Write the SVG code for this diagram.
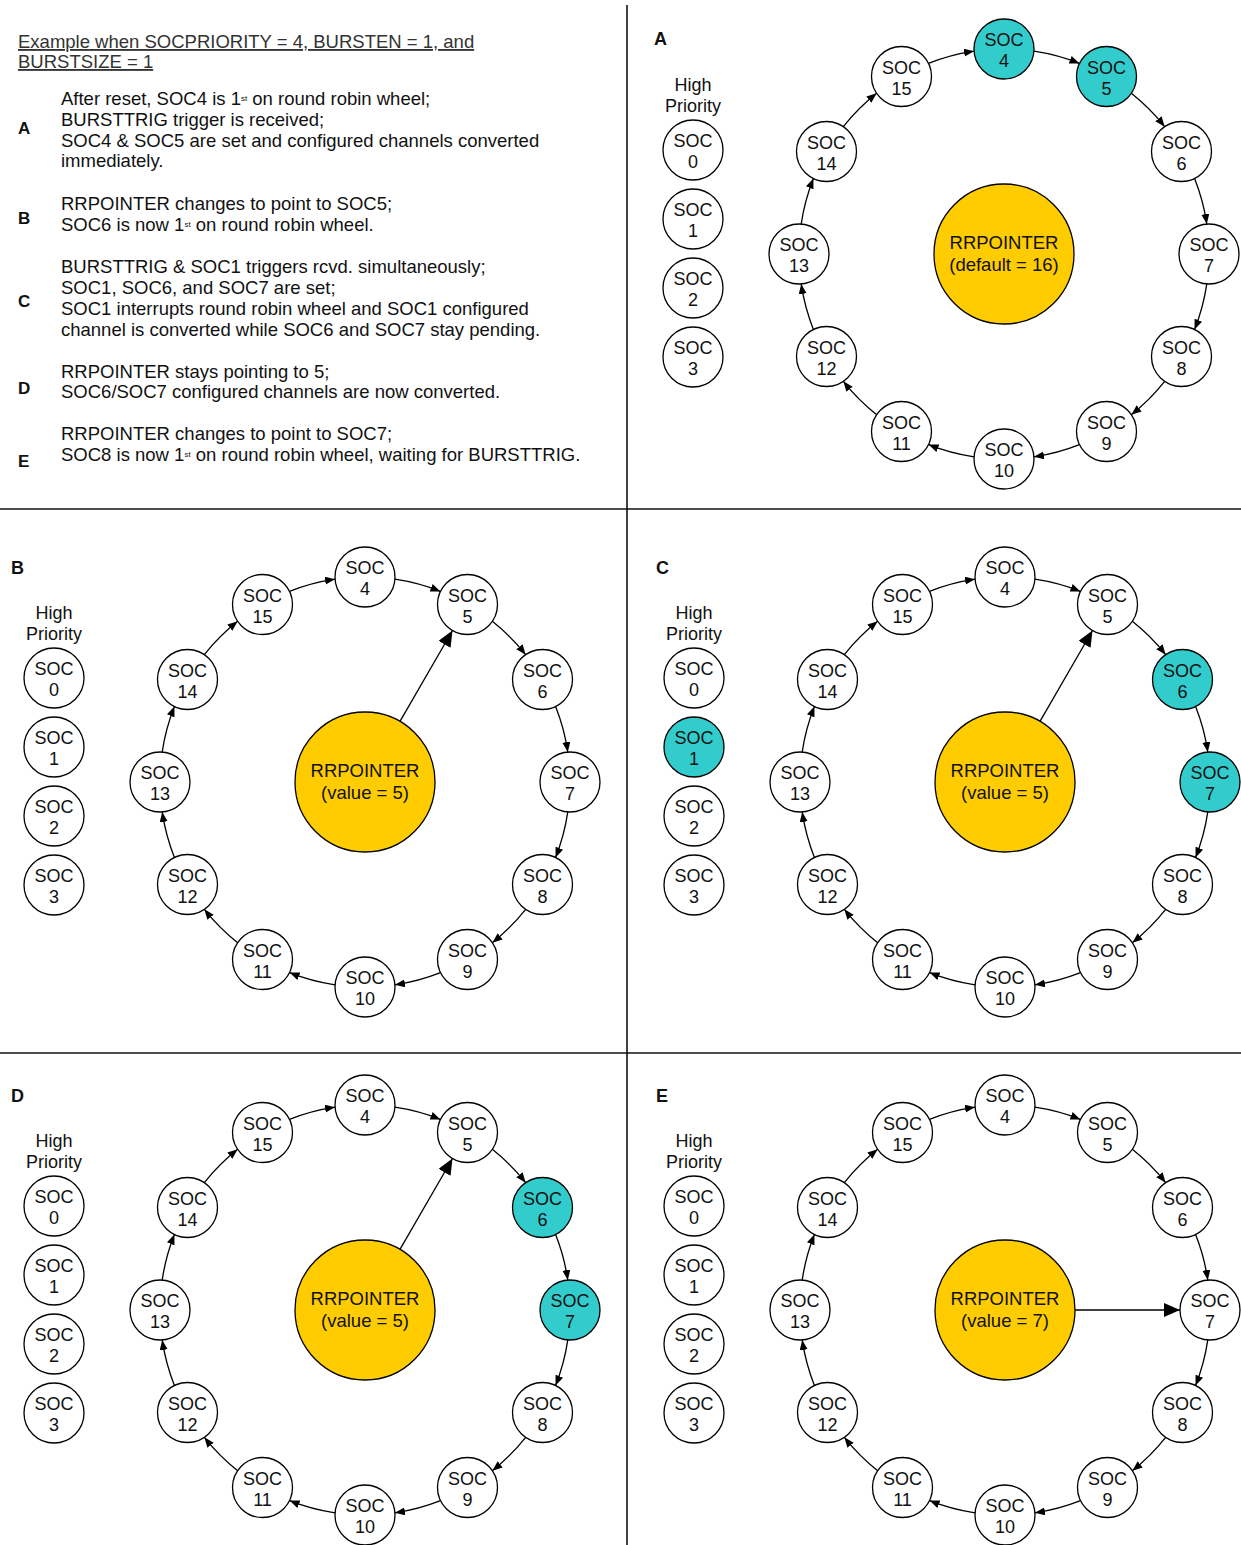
<svg xmlns="http://www.w3.org/2000/svg" width="1241" height="1545" viewBox="0 0 1241 1545">
<style>
text{font-family:"Liberation Sans",Arial,sans-serif;fill:#111}
.body{font-size:18.5px}
.head{font-size:18.5px;fill:#333;text-decoration:underline}
.lbl{font-size:17px;font-weight:bold}
.pl{font-size:18px;font-weight:bold}
.n circle{fill:#fff;stroke:#000;stroke-width:1.3}
.n.on circle{fill:#33CCCC}
.n text,.hp{font-size:18px;text-anchor:middle}
.rr circle{fill:#FFCC00;stroke:#000;stroke-width:1.3}
.rr text{font-size:18.5px;text-anchor:middle}
.c path{fill:none;stroke:#000;stroke-width:1.3}
.c .s{marker-end:url(#ah)}
.c .b{marker-end:url(#ahb)}
.div{stroke:#111;stroke-width:1.6}
.sup{font-size:8px}
</style>
<defs>
<marker id="ah" markerUnits="userSpaceOnUse" markerWidth="11" markerHeight="9" refX="10" refY="4" orient="auto"><path d="M0,0 L10,4 L0,8 z" fill="#000"/></marker>
<marker id="ahb" markerUnits="userSpaceOnUse" markerWidth="17" markerHeight="15" refX="16" refY="7" orient="auto"><path d="M0,0 L16,7 L0,14 z" fill="#000"/></marker>
</defs>

<g id="dividers">
<line class="div" x1="627" y1="5" x2="627" y2="1545"/>
<line class="div" x1="0" y1="509" x2="1241" y2="509"/>
<line class="div" x1="0" y1="1053" x2="1241" y2="1053"/>
</g>

<g id="description">
<text class="head" x="18" y="48">Example when SOCPRIORITY = 4, BURSTEN = 1, and</text>
<text class="head" x="18" y="68">BURSTSIZE = 1</text>
<text class="lbl" x="18" y="134">A</text>
<text class="body" x="61" y="104.5">After reset, SOC4 is 1<tspan class="sup" dy="-4">st</tspan><tspan dy="4"> on round robin wheel;</tspan></text>
<text class="body" x="61" y="125.5">BURSTTRIG trigger is received;</text>
<text class="body" x="61" y="146.5">SOC4 &amp; SOC5 are set and configured channels converted</text>
<text class="body" x="61" y="166.5">immediately.</text>
<text class="lbl" x="18" y="223.5">B</text>
<text class="body" x="61" y="209.5">RRPOINTER changes to point to SOC5;</text>
<text class="body" x="61" y="230.5">SOC6 is now 1<tspan class="sup" dy="-4">st</tspan><tspan dy="4"> on round robin wheel.</tspan></text>
<text class="lbl" x="18" y="306.5">C</text>
<text class="body" x="61" y="272.5">BURSTTRIG &amp; SOC1 triggers rcvd. simultaneously;</text>
<text class="body" x="61" y="293.5">SOC1, SOC6, and SOC7 are set;</text>
<text class="body" x="61" y="314.5">SOC1 interrupts round robin wheel and SOC1 configured</text>
<text class="body" x="61" y="335.5">channel is converted while SOC6 and SOC7 stay pending.</text>
<text class="lbl" x="18" y="393.5">D</text>
<text class="body" x="61" y="377.5">RRPOINTER stays pointing to 5;</text>
<text class="body" x="61" y="397.5">SOC6/SOC7 configured channels are now converted.</text>
<text class="lbl" x="18" y="466.5">E</text>
<text class="body" x="61" y="439.5">RRPOINTER changes to point to SOC7;</text>
<text class="body" x="61" y="460.5">SOC8 is now 1<tspan class="sup" dy="-4">st</tspan><tspan dy="4"> on round robin wheel, waiting for BURSTTRIG.</tspan></text>
</g>

<g id="panel-labels">
<text class="pl" x="654" y="45">A</text>
<text class="pl" x="11" y="574">B</text>
<text class="pl" x="656" y="574">C</text>
<text class="pl" x="11" y="1102">D</text>
<text class="pl" x="656" y="1102">E</text>
</g>

<!-- Panel A -->
<g id="panelA" transform="translate(1004,254)">
<g id="A-connectors" class="c">
<path class="s" d="M29.95,-202.8 A205,205 0 0 1 75.46,-190.6"/>
<path class="s" d="M127.34,-160.66 A205,205 0 0 1 160.66,-127.34"/>
<path class="s" d="M190.6,-75.46 A205,205 0 0 1 202.8,-29.95"/>
<path class="s" d="M202.8,29.95 A205,205 0 0 1 190.6,75.46"/>
<path class="s" d="M160.66,127.34 A205,205 0 0 1 127.34,160.66"/>
<path class="s" d="M75.46,190.6 A205,205 0 0 1 29.95,202.8"/>
<path class="s" d="M-29.95,202.8 A205,205 0 0 1 -75.46,190.6"/>
<path class="s" d="M-127.34,160.66 A205,205 0 0 1 -160.66,127.34"/>
<path class="s" d="M-190.6,75.46 A205,205 0 0 1 -202.8,29.95"/>
<path class="s" d="M-202.8,-29.95 A205,205 0 0 1 -190.6,-75.46"/>
<path class="s" d="M-160.66,-127.34 A205,205 0 0 1 -127.34,-160.66"/>
<path class="s" d="M-75.46,-190.6 A205,205 0 0 1 -29.95,-202.8"/>
</g>
<g id="A-rrpointer" class="rr"><circle cx="0" cy="0" r="70"/><text x="0" y="-5">RRPOINTER</text><text x="0" y="17">(default = 16)</text></g>
<text class="hp" x="-311" y="-163">High</text><text class="hp" x="-311" y="-142">Priority</text>
<g id="A-soc0" class="n"><circle cx="-311" cy="-104" r="30"/><text x="-311" y="-107">SOC</text><text x="-311" y="-86">0</text></g>
<g id="A-soc1" class="n"><circle cx="-311" cy="-35" r="30"/><text x="-311" y="-38">SOC</text><text x="-311" y="-17">1</text></g>
<g id="A-soc2" class="n"><circle cx="-311" cy="34" r="30"/><text x="-311" y="31">SOC</text><text x="-311" y="52">2</text></g>
<g id="A-soc3" class="n"><circle cx="-311" cy="103" r="30"/><text x="-311" y="100">SOC</text><text x="-311" y="121">3</text></g>
<g id="A-soc4" class="n on"><circle cx="0" cy="-205" r="30"/><text x="0" y="-208">SOC</text><text x="0" y="-187">4</text></g>
<g id="A-soc5" class="n on"><circle cx="102.5" cy="-177.5" r="30"/><text x="102.5" y="-180.5">SOC</text><text x="102.5" y="-159.5">5</text></g>
<g id="A-soc6" class="n"><circle cx="177.5" cy="-102.5" r="30"/><text x="177.5" y="-105.5">SOC</text><text x="177.5" y="-84.5">6</text></g>
<g id="A-soc7" class="n"><circle cx="205" cy="0" r="30"/><text x="205" y="-3">SOC</text><text x="205" y="18">7</text></g>
<g id="A-soc8" class="n"><circle cx="177.5" cy="102.5" r="30"/><text x="177.5" y="99.5">SOC</text><text x="177.5" y="120.5">8</text></g>
<g id="A-soc9" class="n"><circle cx="102.5" cy="177.5" r="30"/><text x="102.5" y="174.5">SOC</text><text x="102.5" y="195.5">9</text></g>
<g id="A-soc10" class="n"><circle cx="0" cy="205" r="30"/><text x="0" y="202">SOC</text><text x="0" y="223">10</text></g>
<g id="A-soc11" class="n"><circle cx="-102.5" cy="177.5" r="30"/><text x="-102.5" y="174.5">SOC</text><text x="-102.5" y="195.5">11</text></g>
<g id="A-soc12" class="n"><circle cx="-177.5" cy="102.5" r="30"/><text x="-177.5" y="99.5">SOC</text><text x="-177.5" y="120.5">12</text></g>
<g id="A-soc13" class="n"><circle cx="-205" cy="0" r="30"/><text x="-205" y="-3">SOC</text><text x="-205" y="18">13</text></g>
<g id="A-soc14" class="n"><circle cx="-177.5" cy="-102.5" r="30"/><text x="-177.5" y="-105.5">SOC</text><text x="-177.5" y="-84.5">14</text></g>
<g id="A-soc15" class="n"><circle cx="-102.5" cy="-177.5" r="30"/><text x="-102.5" y="-180.5">SOC</text><text x="-102.5" y="-159.5">15</text></g>
</g>

<!-- Panel B -->
<g id="panelB" transform="translate(365,782)">
<g id="B-connectors" class="c">
<path class="s" d="M29.95,-202.8 A205,205 0 0 1 75.46,-190.6"/>
<path class="s" d="M127.34,-160.66 A205,205 0 0 1 160.66,-127.34"/>
<path class="s" d="M190.6,-75.46 A205,205 0 0 1 202.8,-29.95"/>
<path class="s" d="M202.8,29.95 A205,205 0 0 1 190.6,75.46"/>
<path class="s" d="M160.66,127.34 A205,205 0 0 1 127.34,160.66"/>
<path class="s" d="M75.46,190.6 A205,205 0 0 1 29.95,202.8"/>
<path class="s" d="M-29.95,202.8 A205,205 0 0 1 -75.46,190.6"/>
<path class="s" d="M-127.34,160.66 A205,205 0 0 1 -160.66,127.34"/>
<path class="s" d="M-190.6,75.46 A205,205 0 0 1 -202.8,29.95"/>
<path class="s" d="M-202.8,-29.95 A205,205 0 0 1 -190.6,-75.46"/>
<path class="s" d="M-160.66,-127.34 A205,205 0 0 1 -127.34,-160.66"/>
<path class="s" d="M-75.46,-190.6 A205,205 0 0 1 -29.95,-202.8"/>
<path class="b" d="M35,-60.6 L87.5,-151.5"/>
</g>
<g id="B-rrpointer" class="rr"><circle cx="0" cy="0" r="70"/><text x="0" y="-5">RRPOINTER</text><text x="0" y="17">(value = 5)</text></g>
<text class="hp" x="-311" y="-163">High</text><text class="hp" x="-311" y="-142">Priority</text>
<g id="B-soc0" class="n"><circle cx="-311" cy="-104" r="30"/><text x="-311" y="-107">SOC</text><text x="-311" y="-86">0</text></g>
<g id="B-soc1" class="n"><circle cx="-311" cy="-35" r="30"/><text x="-311" y="-38">SOC</text><text x="-311" y="-17">1</text></g>
<g id="B-soc2" class="n"><circle cx="-311" cy="34" r="30"/><text x="-311" y="31">SOC</text><text x="-311" y="52">2</text></g>
<g id="B-soc3" class="n"><circle cx="-311" cy="103" r="30"/><text x="-311" y="100">SOC</text><text x="-311" y="121">3</text></g>
<g id="B-soc4" class="n"><circle cx="0" cy="-205" r="30"/><text x="0" y="-208">SOC</text><text x="0" y="-187">4</text></g>
<g id="B-soc5" class="n"><circle cx="102.5" cy="-177.5" r="30"/><text x="102.5" y="-180.5">SOC</text><text x="102.5" y="-159.5">5</text></g>
<g id="B-soc6" class="n"><circle cx="177.5" cy="-102.5" r="30"/><text x="177.5" y="-105.5">SOC</text><text x="177.5" y="-84.5">6</text></g>
<g id="B-soc7" class="n"><circle cx="205" cy="0" r="30"/><text x="205" y="-3">SOC</text><text x="205" y="18">7</text></g>
<g id="B-soc8" class="n"><circle cx="177.5" cy="102.5" r="30"/><text x="177.5" y="99.5">SOC</text><text x="177.5" y="120.5">8</text></g>
<g id="B-soc9" class="n"><circle cx="102.5" cy="177.5" r="30"/><text x="102.5" y="174.5">SOC</text><text x="102.5" y="195.5">9</text></g>
<g id="B-soc10" class="n"><circle cx="0" cy="205" r="30"/><text x="0" y="202">SOC</text><text x="0" y="223">10</text></g>
<g id="B-soc11" class="n"><circle cx="-102.5" cy="177.5" r="30"/><text x="-102.5" y="174.5">SOC</text><text x="-102.5" y="195.5">11</text></g>
<g id="B-soc12" class="n"><circle cx="-177.5" cy="102.5" r="30"/><text x="-177.5" y="99.5">SOC</text><text x="-177.5" y="120.5">12</text></g>
<g id="B-soc13" class="n"><circle cx="-205" cy="0" r="30"/><text x="-205" y="-3">SOC</text><text x="-205" y="18">13</text></g>
<g id="B-soc14" class="n"><circle cx="-177.5" cy="-102.5" r="30"/><text x="-177.5" y="-105.5">SOC</text><text x="-177.5" y="-84.5">14</text></g>
<g id="B-soc15" class="n"><circle cx="-102.5" cy="-177.5" r="30"/><text x="-102.5" y="-180.5">SOC</text><text x="-102.5" y="-159.5">15</text></g>
</g>

<!-- Panel C -->
<g id="panelC" transform="translate(1005,782)">
<g id="C-connectors" class="c">
<path class="s" d="M29.95,-202.8 A205,205 0 0 1 75.46,-190.6"/>
<path class="s" d="M127.34,-160.66 A205,205 0 0 1 160.66,-127.34"/>
<path class="s" d="M190.6,-75.46 A205,205 0 0 1 202.8,-29.95"/>
<path class="s" d="M202.8,29.95 A205,205 0 0 1 190.6,75.46"/>
<path class="s" d="M160.66,127.34 A205,205 0 0 1 127.34,160.66"/>
<path class="s" d="M75.46,190.6 A205,205 0 0 1 29.95,202.8"/>
<path class="s" d="M-29.95,202.8 A205,205 0 0 1 -75.46,190.6"/>
<path class="s" d="M-127.34,160.66 A205,205 0 0 1 -160.66,127.34"/>
<path class="s" d="M-190.6,75.46 A205,205 0 0 1 -202.8,29.95"/>
<path class="s" d="M-202.8,-29.95 A205,205 0 0 1 -190.6,-75.46"/>
<path class="s" d="M-160.66,-127.34 A205,205 0 0 1 -127.34,-160.66"/>
<path class="s" d="M-75.46,-190.6 A205,205 0 0 1 -29.95,-202.8"/>
<path class="b" d="M35,-60.6 L87.5,-151.5"/>
</g>
<g id="C-rrpointer" class="rr"><circle cx="0" cy="0" r="70"/><text x="0" y="-5">RRPOINTER</text><text x="0" y="17">(value = 5)</text></g>
<text class="hp" x="-311" y="-163">High</text><text class="hp" x="-311" y="-142">Priority</text>
<g id="C-soc0" class="n"><circle cx="-311" cy="-104" r="30"/><text x="-311" y="-107">SOC</text><text x="-311" y="-86">0</text></g>
<g id="C-soc1" class="n on"><circle cx="-311" cy="-35" r="30"/><text x="-311" y="-38">SOC</text><text x="-311" y="-17">1</text></g>
<g id="C-soc2" class="n"><circle cx="-311" cy="34" r="30"/><text x="-311" y="31">SOC</text><text x="-311" y="52">2</text></g>
<g id="C-soc3" class="n"><circle cx="-311" cy="103" r="30"/><text x="-311" y="100">SOC</text><text x="-311" y="121">3</text></g>
<g id="C-soc4" class="n"><circle cx="0" cy="-205" r="30"/><text x="0" y="-208">SOC</text><text x="0" y="-187">4</text></g>
<g id="C-soc5" class="n"><circle cx="102.5" cy="-177.5" r="30"/><text x="102.5" y="-180.5">SOC</text><text x="102.5" y="-159.5">5</text></g>
<g id="C-soc6" class="n on"><circle cx="177.5" cy="-102.5" r="30"/><text x="177.5" y="-105.5">SOC</text><text x="177.5" y="-84.5">6</text></g>
<g id="C-soc7" class="n on"><circle cx="205" cy="0" r="30"/><text x="205" y="-3">SOC</text><text x="205" y="18">7</text></g>
<g id="C-soc8" class="n"><circle cx="177.5" cy="102.5" r="30"/><text x="177.5" y="99.5">SOC</text><text x="177.5" y="120.5">8</text></g>
<g id="C-soc9" class="n"><circle cx="102.5" cy="177.5" r="30"/><text x="102.5" y="174.5">SOC</text><text x="102.5" y="195.5">9</text></g>
<g id="C-soc10" class="n"><circle cx="0" cy="205" r="30"/><text x="0" y="202">SOC</text><text x="0" y="223">10</text></g>
<g id="C-soc11" class="n"><circle cx="-102.5" cy="177.5" r="30"/><text x="-102.5" y="174.5">SOC</text><text x="-102.5" y="195.5">11</text></g>
<g id="C-soc12" class="n"><circle cx="-177.5" cy="102.5" r="30"/><text x="-177.5" y="99.5">SOC</text><text x="-177.5" y="120.5">12</text></g>
<g id="C-soc13" class="n"><circle cx="-205" cy="0" r="30"/><text x="-205" y="-3">SOC</text><text x="-205" y="18">13</text></g>
<g id="C-soc14" class="n"><circle cx="-177.5" cy="-102.5" r="30"/><text x="-177.5" y="-105.5">SOC</text><text x="-177.5" y="-84.5">14</text></g>
<g id="C-soc15" class="n"><circle cx="-102.5" cy="-177.5" r="30"/><text x="-102.5" y="-180.5">SOC</text><text x="-102.5" y="-159.5">15</text></g>
</g>

<!-- Panel D -->
<g id="panelD" transform="translate(365,1310)">
<g id="D-connectors" class="c">
<path class="s" d="M29.95,-202.8 A205,205 0 0 1 75.46,-190.6"/>
<path class="s" d="M127.34,-160.66 A205,205 0 0 1 160.66,-127.34"/>
<path class="s" d="M190.6,-75.46 A205,205 0 0 1 202.8,-29.95"/>
<path class="s" d="M202.8,29.95 A205,205 0 0 1 190.6,75.46"/>
<path class="s" d="M160.66,127.34 A205,205 0 0 1 127.34,160.66"/>
<path class="s" d="M75.46,190.6 A205,205 0 0 1 29.95,202.8"/>
<path class="s" d="M-29.95,202.8 A205,205 0 0 1 -75.46,190.6"/>
<path class="s" d="M-127.34,160.66 A205,205 0 0 1 -160.66,127.34"/>
<path class="s" d="M-190.6,75.46 A205,205 0 0 1 -202.8,29.95"/>
<path class="s" d="M-202.8,-29.95 A205,205 0 0 1 -190.6,-75.46"/>
<path class="s" d="M-160.66,-127.34 A205,205 0 0 1 -127.34,-160.66"/>
<path class="s" d="M-75.46,-190.6 A205,205 0 0 1 -29.95,-202.8"/>
<path class="b" d="M35,-60.6 L87.5,-151.5"/>
</g>
<g id="D-rrpointer" class="rr"><circle cx="0" cy="0" r="70"/><text x="0" y="-5">RRPOINTER</text><text x="0" y="17">(value = 5)</text></g>
<text class="hp" x="-311" y="-163">High</text><text class="hp" x="-311" y="-142">Priority</text>
<g id="D-soc0" class="n"><circle cx="-311" cy="-104" r="30"/><text x="-311" y="-107">SOC</text><text x="-311" y="-86">0</text></g>
<g id="D-soc1" class="n"><circle cx="-311" cy="-35" r="30"/><text x="-311" y="-38">SOC</text><text x="-311" y="-17">1</text></g>
<g id="D-soc2" class="n"><circle cx="-311" cy="34" r="30"/><text x="-311" y="31">SOC</text><text x="-311" y="52">2</text></g>
<g id="D-soc3" class="n"><circle cx="-311" cy="103" r="30"/><text x="-311" y="100">SOC</text><text x="-311" y="121">3</text></g>
<g id="D-soc4" class="n"><circle cx="0" cy="-205" r="30"/><text x="0" y="-208">SOC</text><text x="0" y="-187">4</text></g>
<g id="D-soc5" class="n"><circle cx="102.5" cy="-177.5" r="30"/><text x="102.5" y="-180.5">SOC</text><text x="102.5" y="-159.5">5</text></g>
<g id="D-soc6" class="n on"><circle cx="177.5" cy="-102.5" r="30"/><text x="177.5" y="-105.5">SOC</text><text x="177.5" y="-84.5">6</text></g>
<g id="D-soc7" class="n on"><circle cx="205" cy="0" r="30"/><text x="205" y="-3">SOC</text><text x="205" y="18">7</text></g>
<g id="D-soc8" class="n"><circle cx="177.5" cy="102.5" r="30"/><text x="177.5" y="99.5">SOC</text><text x="177.5" y="120.5">8</text></g>
<g id="D-soc9" class="n"><circle cx="102.5" cy="177.5" r="30"/><text x="102.5" y="174.5">SOC</text><text x="102.5" y="195.5">9</text></g>
<g id="D-soc10" class="n"><circle cx="0" cy="205" r="30"/><text x="0" y="202">SOC</text><text x="0" y="223">10</text></g>
<g id="D-soc11" class="n"><circle cx="-102.5" cy="177.5" r="30"/><text x="-102.5" y="174.5">SOC</text><text x="-102.5" y="195.5">11</text></g>
<g id="D-soc12" class="n"><circle cx="-177.5" cy="102.5" r="30"/><text x="-177.5" y="99.5">SOC</text><text x="-177.5" y="120.5">12</text></g>
<g id="D-soc13" class="n"><circle cx="-205" cy="0" r="30"/><text x="-205" y="-3">SOC</text><text x="-205" y="18">13</text></g>
<g id="D-soc14" class="n"><circle cx="-177.5" cy="-102.5" r="30"/><text x="-177.5" y="-105.5">SOC</text><text x="-177.5" y="-84.5">14</text></g>
<g id="D-soc15" class="n"><circle cx="-102.5" cy="-177.5" r="30"/><text x="-102.5" y="-180.5">SOC</text><text x="-102.5" y="-159.5">15</text></g>
</g>

<!-- Panel E -->
<g id="panelE" transform="translate(1005,1310)">
<g id="E-connectors" class="c">
<path class="s" d="M29.95,-202.8 A205,205 0 0 1 75.46,-190.6"/>
<path class="s" d="M127.34,-160.66 A205,205 0 0 1 160.66,-127.34"/>
<path class="s" d="M190.6,-75.46 A205,205 0 0 1 202.8,-29.95"/>
<path class="s" d="M202.8,29.95 A205,205 0 0 1 190.6,75.46"/>
<path class="s" d="M160.66,127.34 A205,205 0 0 1 127.34,160.66"/>
<path class="s" d="M75.46,190.6 A205,205 0 0 1 29.95,202.8"/>
<path class="s" d="M-29.95,202.8 A205,205 0 0 1 -75.46,190.6"/>
<path class="s" d="M-127.34,160.66 A205,205 0 0 1 -160.66,127.34"/>
<path class="s" d="M-190.6,75.46 A205,205 0 0 1 -202.8,29.95"/>
<path class="s" d="M-202.8,-29.95 A205,205 0 0 1 -190.6,-75.46"/>
<path class="s" d="M-160.66,-127.34 A205,205 0 0 1 -127.34,-160.66"/>
<path class="s" d="M-75.46,-190.6 A205,205 0 0 1 -29.95,-202.8"/>
<path class="b" d="M70,0 L175,0"/>
</g>
<g id="E-rrpointer" class="rr"><circle cx="0" cy="0" r="70"/><text x="0" y="-5">RRPOINTER</text><text x="0" y="17">(value = 7)</text></g>
<text class="hp" x="-311" y="-163">High</text><text class="hp" x="-311" y="-142">Priority</text>
<g id="E-soc0" class="n"><circle cx="-311" cy="-104" r="30"/><text x="-311" y="-107">SOC</text><text x="-311" y="-86">0</text></g>
<g id="E-soc1" class="n"><circle cx="-311" cy="-35" r="30"/><text x="-311" y="-38">SOC</text><text x="-311" y="-17">1</text></g>
<g id="E-soc2" class="n"><circle cx="-311" cy="34" r="30"/><text x="-311" y="31">SOC</text><text x="-311" y="52">2</text></g>
<g id="E-soc3" class="n"><circle cx="-311" cy="103" r="30"/><text x="-311" y="100">SOC</text><text x="-311" y="121">3</text></g>
<g id="E-soc4" class="n"><circle cx="0" cy="-205" r="30"/><text x="0" y="-208">SOC</text><text x="0" y="-187">4</text></g>
<g id="E-soc5" class="n"><circle cx="102.5" cy="-177.5" r="30"/><text x="102.5" y="-180.5">SOC</text><text x="102.5" y="-159.5">5</text></g>
<g id="E-soc6" class="n"><circle cx="177.5" cy="-102.5" r="30"/><text x="177.5" y="-105.5">SOC</text><text x="177.5" y="-84.5">6</text></g>
<g id="E-soc7" class="n"><circle cx="205" cy="0" r="30"/><text x="205" y="-3">SOC</text><text x="205" y="18">7</text></g>
<g id="E-soc8" class="n"><circle cx="177.5" cy="102.5" r="30"/><text x="177.5" y="99.5">SOC</text><text x="177.5" y="120.5">8</text></g>
<g id="E-soc9" class="n"><circle cx="102.5" cy="177.5" r="30"/><text x="102.5" y="174.5">SOC</text><text x="102.5" y="195.5">9</text></g>
<g id="E-soc10" class="n"><circle cx="0" cy="205" r="30"/><text x="0" y="202">SOC</text><text x="0" y="223">10</text></g>
<g id="E-soc11" class="n"><circle cx="-102.5" cy="177.5" r="30"/><text x="-102.5" y="174.5">SOC</text><text x="-102.5" y="195.5">11</text></g>
<g id="E-soc12" class="n"><circle cx="-177.5" cy="102.5" r="30"/><text x="-177.5" y="99.5">SOC</text><text x="-177.5" y="120.5">12</text></g>
<g id="E-soc13" class="n"><circle cx="-205" cy="0" r="30"/><text x="-205" y="-3">SOC</text><text x="-205" y="18">13</text></g>
<g id="E-soc14" class="n"><circle cx="-177.5" cy="-102.5" r="30"/><text x="-177.5" y="-105.5">SOC</text><text x="-177.5" y="-84.5">14</text></g>
<g id="E-soc15" class="n"><circle cx="-102.5" cy="-177.5" r="30"/><text x="-102.5" y="-180.5">SOC</text><text x="-102.5" y="-159.5">15</text></g>
</g>
</svg>
